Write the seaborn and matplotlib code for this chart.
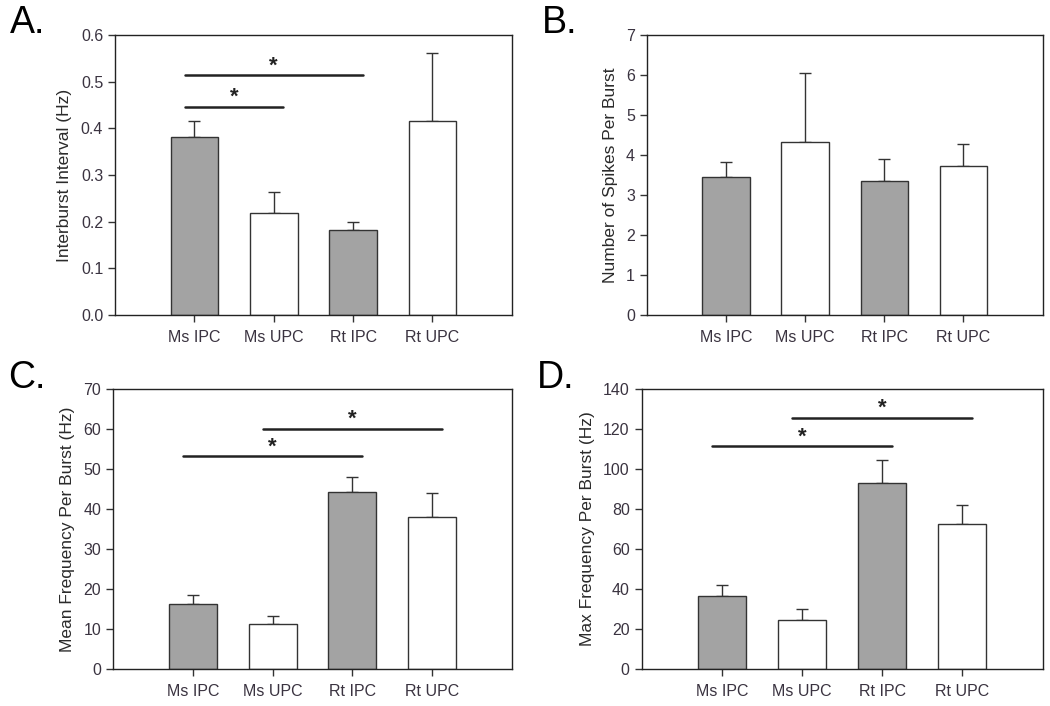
import numpy as np
import pandas as pd
import matplotlib
matplotlib.use("Agg")
import matplotlib.pyplot as plt
import seaborn as sns

groups = ["Ms IPC", "Ms UPC", "Rt IPC", "Rt UPC"]
bar_colors = ["#a3a3a3", "#ffffff", "#a3a3a3", "#ffffff"]

ibi_mean = [0.381, 0.219, 0.183, 0.416]
ibi_sem = [0.035, 0.045, 0.017, 0.146]
spikes_mean = [3.46, 4.33, 3.35, 3.72]
spikes_sem = [0.36, 1.73, 0.56, 0.56]
meanfreq_mean = [16.3, 11.3, 44.3, 37.9]
meanfreq_sem = [2.2, 1.95, 3.7, 6.2]
maxfreq_mean = [36.3, 24.3, 93.2, 72.7]
maxfreq_sem = [5.9, 5.5, 11.1, 9.3]

# significance brackets: (from group, to group, height)
ibi_sig = [(0, 2, 0.514), (0, 1, 0.446)]
meanfreq_sig = [(1, 3, 60.1), (0, 2, 53.2)]
maxfreq_sig = [(1, 3, 125.5), (0, 2, 111.3)]

sns.set_style("ticks")
plt.rcParams["font.family"] = ["Liberation Sans", "DejaVu Sans"]

fig = plt.figure(figsize=(10.5, 7.06), dpi=100)

panels = [
    ("A.", [0.1095, 0.5538, 0.378, 0.3966], 0.993, ibi_mean, ibi_sem, ibi_sig,
     "Interburst Interval (Hz)", (0, 0.6), np.arange(0, 0.61, 0.1), "%.1f"),
    ("B.", [0.616, 0.5538, 0.377, 0.3966], 0.993, spikes_mean, spikes_sem, [],
     "Number of Spikes Per Burst", (0, 7), np.arange(0, 8, 1), "%d"),
    ("C.", [0.1076, 0.0524, 0.380, 0.3966], 0.490, meanfreq_mean, meanfreq_sem, meanfreq_sig,
     "Mean Frequency Per Burst (Hz)", (0, 70), np.arange(0, 71, 10), "%d"),
    ("D.", [0.611, 0.0524, 0.382, 0.3966], 0.490, maxfreq_mean, maxfreq_sem, maxfreq_sig,
     "Max Frequency Per Burst (Hz)", (0, 140), np.arange(0, 141, 20), "%d"),
]

for letter, pos, ltop, means, sems, sig, ylabel, ylim, yticks, fmt in panels:
    ax = fig.add_axes(pos)
    df = pd.DataFrame({"group": groups, "value": means})
    ax.errorbar(groups, means, yerr=[np.zeros(len(sems)), sems], fmt="none",
                ecolor="#333333", elinewidth=1.0, capsize=4, capthick=1.0, zorder=1)
    sns.barplot(data=df, x="group", y="value", hue="group", palette=bar_colors,
                legend=False, width=0.6, edgecolor="#333333", linewidth=1.0,
                ax=ax, zorder=2)
    for x0, x1, h in sig:
        ax.plot([x0 - 0.12, x1 + 0.12], [h, h], color="#222222", lw=1.8, zorder=3)
        ax.text((x0 + x1) / 2, h - (ylim[1] - ylim[0]) * 0.004, "*", ha="center",
                va="bottom", fontsize=16, fontweight="bold", color="#222222")
    ax.set_xlim(-1, 4)
    ax.set_ylim(*ylim)
    ax.set_yticks(yticks)
    ax.set_yticklabels([fmt % v for v in yticks])
    ax.set_xlabel("")
    ax.set_ylabel(ylabel, fontsize=12.5, color="#2a2a2a", labelpad=6)
    ax.tick_params(axis="both", direction="out", length=5, width=1,
                   labelsize=11.5, colors="#333333")
    ax.tick_params(axis="x", pad=6, labelcolor="#3a3340")
    ax.tick_params(axis="y", labelcolor="#3a3340")
    for s in ax.spines.values():
        s.set_visible(True)
        s.set_linewidth(1.0)
        s.set_color("#222222")
    fig.text(pos[0] - 0.1, ltop, letter, fontsize=27,
             ha="left", va="top", color="black")

fig.savefig("out.png", dpi=100)
